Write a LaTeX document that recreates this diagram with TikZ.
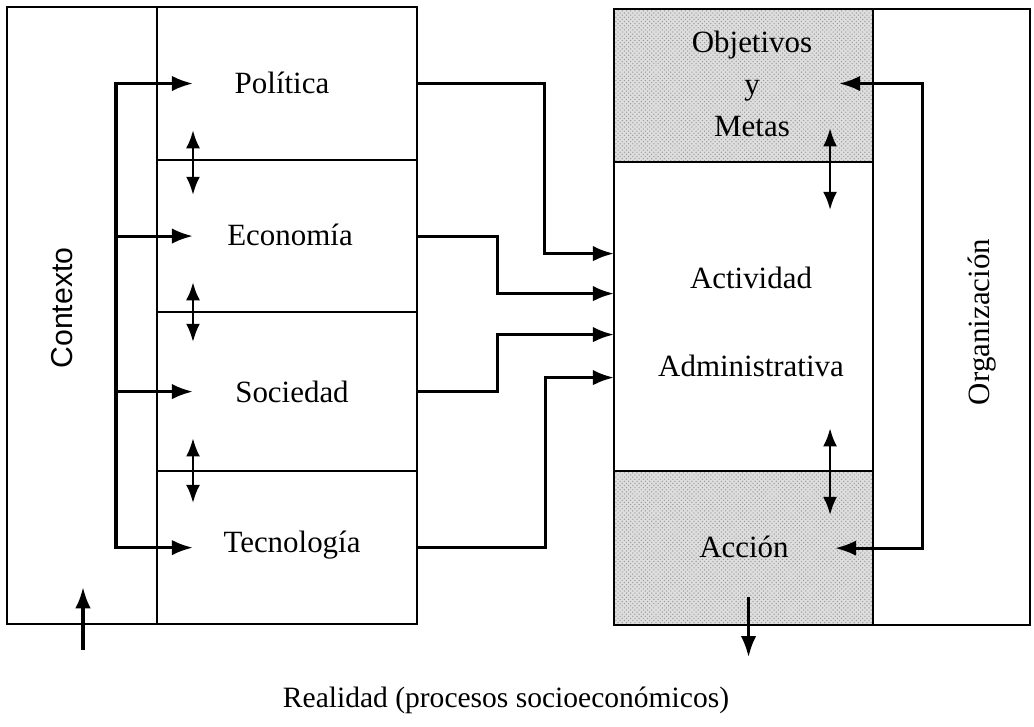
\documentclass[tikz,border=0pt]{standalone}
\usepackage{fontspec}
\setmainfont{Liberation Serif}
\setsansfont{Liberation Sans}
\usetikzlibrary{calc, arrows.meta, patterns}

\tikzset{
    cell/.style={draw, line width=1.2pt, inner sep=0pt, outer sep=0pt, anchor=north west,
        minimum width=#1},
    cell/.default=6.5cm,
    shaded/.style={preaction={fill=black!13}, pattern=crosshatch dots, pattern color=black!40},
    flow/.style={line width=2.2pt, -{Latex[length=15pt,width=11pt]}},
    twoway/.style={line width=2pt, {Latex[length=13pt,width=10pt]}-{Latex[length=13pt,width=10pt]}},
    label/.style={font=\fontsize{22}{26}\selectfont}
}

\begin{document}
\begin{tikzpicture}[x=0.025cm, y=-0.025cm]

    \useasboundingbox (0,0) rectangle (1034,726);

    % --- Left block: context and its four fields ---
    \node[cell=3.75cm, minimum height=15.425cm] (ctx) at (7,7) {};
    \node[cell, minimum height=3.825cm] (pol) at (157,7) {};
    \node[cell, minimum height=3.8cm]   (eco) at (pol.south west) {};
    \node[cell, minimum height=3.975cm] (soc) at (eco.south west) {};
    \node[cell, minimum height=3.825cm] (tec) at (soc.south west) {};

    \node[label] (polt) at (282,83)  {Política};
    \node[label] (ecot) at (290,235) {Economía};
    \node[label] (soct) at (292,392) {Sociedad};
    \node[label] (tect) at (292,545) {Tecnología};
    \node[label, font=\sffamily\fontsize{21.5}{24}\selectfont, rotate=90] (ctxt) at (62,308) {Contexto};

    % --- Right block: organization ---
    \node[cell=10.4cm, minimum height=15.4cm] (org) at (614,9) {};
    \node[cell=6.475cm, minimum height=3.825cm, shaded] (obj) at (614,9) {};
    \node[cell=6.475cm, minimum height=7.725cm] (act) at (obj.south west) {};
    \node[cell=6.475cm, minimum height=3.85cm, shaded] (acc) at (act.south west) {};

    \node[label, font=\fontsize{22}{30}\selectfont, align=center] (objt) at (752,84) {Objetivos\\y\\Metas};
    \node[label, align=center] (actt) at (751,322) {Actividad\\[37pt]Administrativa};
    \node[label] (acct) at (744,547) {Acción};
    \node[label, rotate=90] (orgt) at (982,322) {Organización};

    \node[label, font=\fontsize{21}{24}\selectfont] (real) at (506,700) {Realidad (procesos socioeconómicos)};

    % --- Context bus feeding the fields ---
    \coordinate (b1) at ($(pol.west)+(-41,0)$);
    \coordinate (b2) at ($(eco.west)+(-41,0)$);
    \coordinate (b3) at ($(soc.west)+(-41,0)$);
    \coordinate (b4) at ($(tec.west)+(-41,0)$);

    \draw[flow, {Latex[length=15pt,width=11pt]}-{Latex[length=15pt,width=11pt]}]
        ($(b4)+(77,0)$) -- (b4) -- (b1) -- ($(b1)+(77,0)$);
    \draw[flow] (b2) -- ++(77,0);
    \draw[flow] (b3) -- ++(77,0);

    % two-way links between neighbouring fields
    \draw[twoway] ($(pol.south west)+(36,-30)$) -- ($(pol.south west)+(36,35)$);
    \draw[twoway] ($(eco.south west)+(36,-30)$) -- ($(eco.south west)+(36,30)$);
    \draw[twoway] ($(soc.south west)+(36,-33)$) -- ($(soc.south west)+(36,32)$);

    % --- Fields into the administrative activity ---
    \coordinate (in1) at ($(act.west)+(0,-63)$);
    \coordinate (in2) at ($(act.west)+(0,-23)$);
    \coordinate (in3) at ($(act.west)+(0,18)$);
    \coordinate (in4) at ($(act.west)+(0,61)$);

    \draw[flow] (pol.east) -- ++(127,0) |- (in1);
    \draw[flow] (eco.east) -- ++(80,0)  |- (in2);
    \draw[flow] (soc.east) -- ++(80,0)  |- (in3);
    \draw[flow] (tec.east) -- ++(128,0) |- (in4);

    % --- Feedback loop inside the organization ---
    \draw[flow, {Latex[length=15pt,width=11pt]}-{Latex[length=15pt,width=11pt]}]
        ($(obj.east)+(-34,-2)$) -- ($(obj.east)+(49,-2)$)
        -- ($(acc.east)+(49,0)$) -- ($(acc.east)+(-38,0)$);

    \draw[twoway] ($(obj.south east)+(-43,-34)$) -- ($(obj.south east)+(-43,48)$);
    \draw[twoway] ($(act.south east)+(-43,-43)$) -- ($(act.south east)+(-43,44)$);

    % --- Links with reality ---
    \draw[flow] ($(acc.south)+(5,-28)$) -- ($(acc.south)+(5,32)$);
    \draw[flow] ($(ctx.south)+(1,26)$) -- ($(ctx.south)+(1,-37)$);

\end{tikzpicture}
\end{document}
